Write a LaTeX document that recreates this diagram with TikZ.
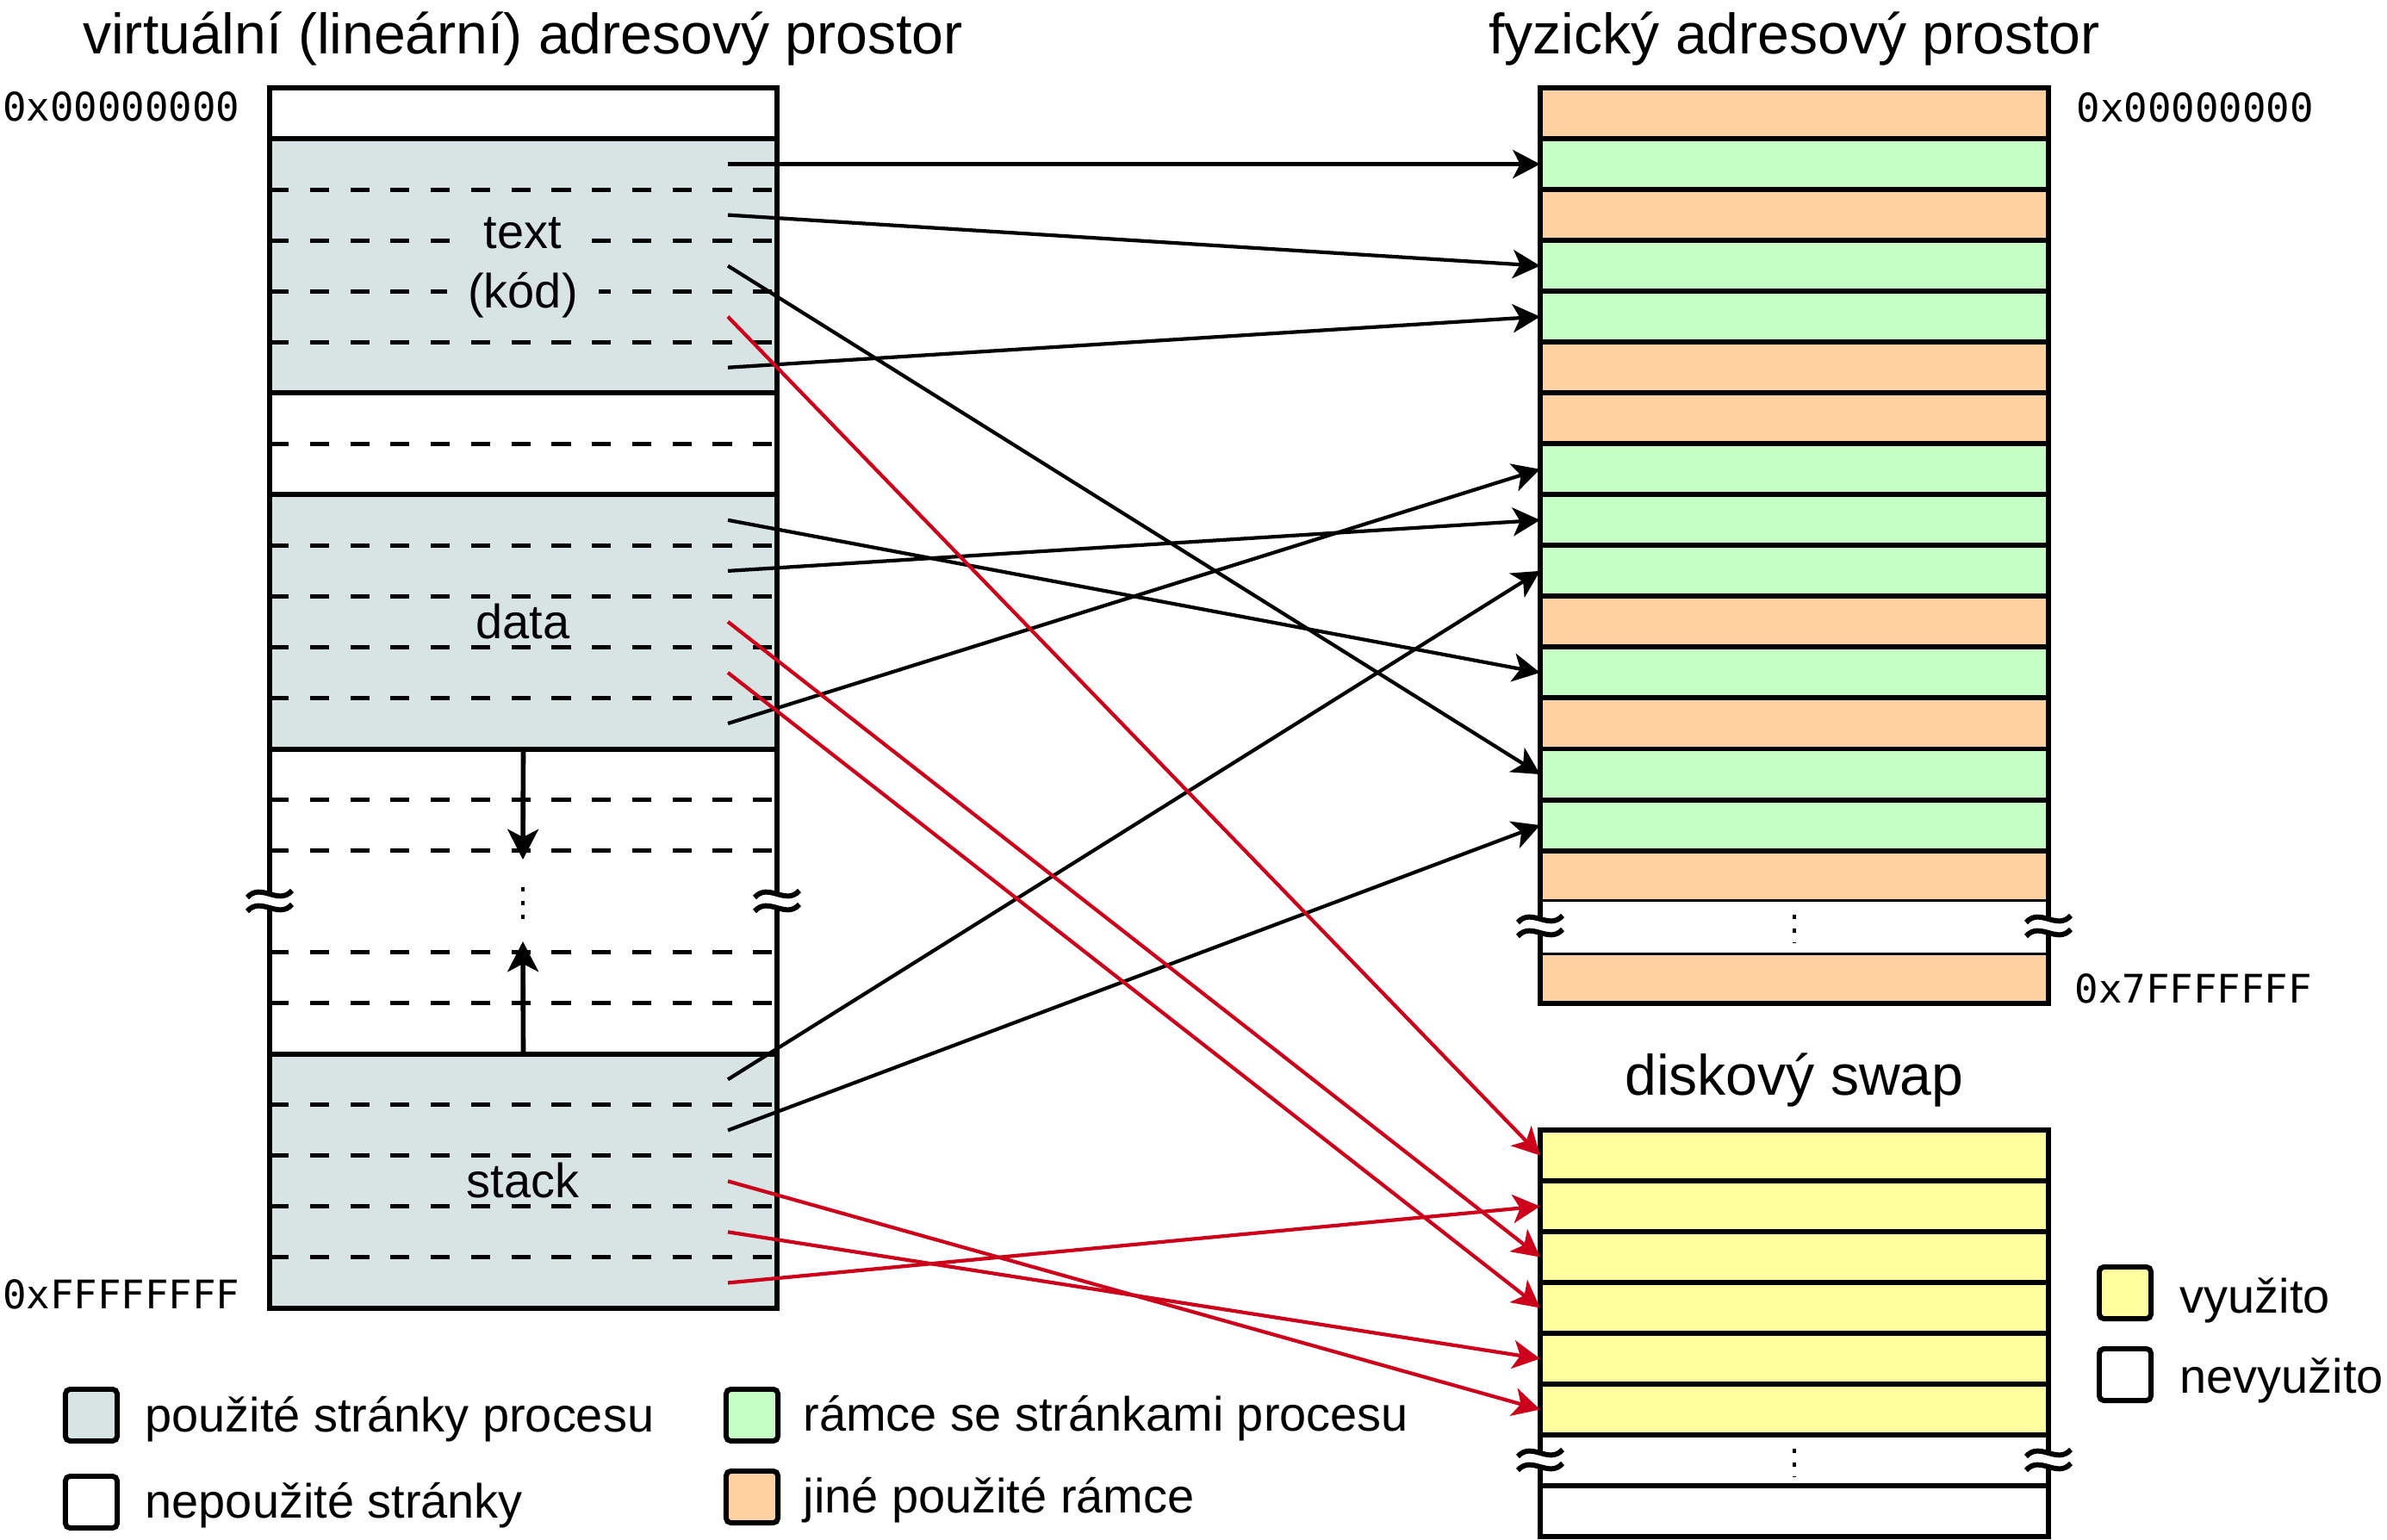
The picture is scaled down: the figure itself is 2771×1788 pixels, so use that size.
\documentclass[tikz,border=0pt]{standalone}
\usepackage{fontspec}
\setmainfont{Liberation Sans}
\newfontfamily\monofnt{DejaVu Sans Mono}
\usetikzlibrary{arrows.meta}
\definecolor{pggray}{RGB}{216,228,227}
\definecolor{pggreen}{RGB}{197,255,197}
\definecolor{pgorange}{RGB}{255,208,160}
\definecolor{pgyellow}{RGB}{255,255,160}
\definecolor{pgred}{RGB}{204,0,26}
\newcommand\titlefnt{\fontsize{18.8pt}{22pt}\selectfont}
\newcommand\lblfnt{\fontsize{15.9pt}{19pt}\selectfont}
\newcommand\addrfnt{\monofnt\fontsize{13pt}{15pt}\selectfont}
\begin{document}
\begin{tikzpicture}[x=0.01cm,y=-0.01cm,
  frame/.style={line width=1.7pt},
  sepline/.style={line width=1.4pt, dash pattern=on 6.3pt off 7pt},
  dotline/.style={line width=1.2pt, dash pattern=on 1.5pt off 3pt},
  vrow/.style={minimum width=5.89cm, minimum height=0.5904cm, inner sep=0pt, outer sep=0pt, draw=none},
  prow/.style={minimum width=5.9cm, minimum height=0.5904cm, inner sep=0pt, outer sep=0pt, draw, frame},
  map/.style={line width=1.2pt, -{Stealth[length=9pt,width=9.4pt,inset=2.4pt]}},
  mapred/.style={map, draw=pgred, fill=pgred},
  growth/.style={line width=1.6pt, -{Stealth[length=10pt,width=10.2pt,inset=2.6pt]}},
  lbl/.style={font=\lblfnt, fill=pggray, inner xsep=7pt, inner ysep=1pt},
  txt/.style={font=\lblfnt, inner sep=0pt},
  ttl/.style={font=\titlefnt, inner sep=0pt, anchor=base},
  addr/.style={font=\addrfnt, inner sep=0pt},
  leg/.style={draw, frame, minimum size=0.6cm, inner sep=0pt, rounded corners=1.5pt},
  wave/.style={frame}
]
\useasboundingbox (0,0) rectangle (2771,1788);
\newcommand\brkmark[2]{%
  \draw[wave] ({#1-26},{#2-4}) .. controls ({#1-10},{#2-22}) and ({#1+10},{#2+6}) .. ({#1+26},{#2-12});
  \draw[wave] ({#1-26},{#2+12}) .. controls ({#1-10},{#2-6}) and ({#1+10},{#2+22}) .. ({#1+26},{#2+4});
}
% ---------- titles
\node[ttl] (tv) at (607,63) {virtuální (lineární) adresový prostor};
\node[ttl] (tp) at (2083,63) {fyzický adresový prostor};
\node[ttl] (ts) at (2083,1271) {diskový swap};
% ---------- virtual address space
\foreach \k in {0,6,7,13,14,15,16,17,18}
  \node[vrow, fill=white] (V\k) at (607.5,{102+59.04*(\k+0.5)}) {};
\foreach \k in {1,2,3,4,5,8,9,10,11,12,19,20,21,22,23}
  \node[vrow, fill=pggray] (V\k) at (607.5,{102+59.04*(\k+0.5)}) {};
\foreach \k in {2,3,4,5,7,9,10,11,12,14,15,17,18,20,21,22,23}
  \draw[sepline] (313,{102+59.04*\k}) -- (902,{102+59.04*\k});
\foreach \k in {1,6,8,13,19}
  \draw[frame] (313,{102+59.04*\k}) -- (902,{102+59.04*\k});
\draw[frame] (313,1038) -- (313,102) -- (902,102) -- (902,1038);
\draw[frame] (313,1054) -- (313,1519) -- (902,1519) -- (902,1054);
\brkmark{313}{1046}
\brkmark{902}{1046}
\coordinate (dgrow) at (607,998);
\coordinate (sgrow) at (607,1093);
\draw[growth] (V12.south) -- (dgrow);
\draw[growth] (V19.north) -- (sgrow);
\draw[dotline] (607,1030) -- (607,1068);
\node[lbl, anchor=base] (Ltext) at (607,288) {text};
\node[lbl, anchor=base] (Lkod) at (607,358) {(kód)};
\node[lbl, anchor=base] (Ldata) at (607,741) {data};
\node[lbl, anchor=base] (Lstack) at (607,1390) {stack};
\node[addr, anchor=base east] (a0) at (279,141) {0x00000000};
\node[addr, anchor=base east] (a1) at (279,1519) {0xFFFFFFFF};
% ---------- physical address space
\foreach \k/\c in {0/pgorange,1/pggreen,2/pgorange,3/pggreen,4/pggreen,5/pgorange,
  6/pgorange,7/pggreen,8/pggreen,9/pggreen,10/pgorange,11/pggreen,12/pgorange,
  13/pggreen,14/pggreen,15/pgorange,17/pgorange}
  \node[prow, fill=\c] (P\k) at (2083,{102+59.04*(\k+0.5)}) {};
\node[vrow, minimum width=5.9cm, fill=white] (P16) at (2083,{102+59.04*16.5}) {};
\draw[frame] (1788,{102+59.04*16}) -- (1788,1067) (1788,1083) -- (1788,{102+59.04*17});
\draw[frame] (2378,{102+59.04*16}) -- (2378,1067) (2378,1083) -- (2378,{102+59.04*17});
\brkmark{1788}{1075}
\brkmark{2378}{1075}
\draw[dotline] (2083,1062) -- (2083,1094);
\node[addr, anchor=base west] (a2) at (2410,142) {0x00000000};
\node[addr, anchor=base west] (a3) at (2408,1164) {0x7FFFFFFF};
% ---------- swap
\foreach \k in {0,1,2,3,4,5}
  \node[prow, fill=pgyellow] (S\k) at (2083,{1312+59*(\k+0.5)}) {};
\node[prow, fill=white] (S7) at (2083,{1312+59*7.5}) {};
\node[vrow, minimum width=5.9cm, fill=white] (S6) at (2083,{1312+59*6.5}) {};
\draw[frame] (1788,1666) -- (1788,1687) (1788,1703) -- (1788,1725);
\draw[frame] (2378,1666) -- (2378,1687) (2378,1703) -- (2378,1725);
\draw[frame] (1788,1666) -- (2378,1666) (1788,1725) -- (2378,1725);
\brkmark{1788}{1695}
\brkmark{2378}{1695}
\draw[dotline] (2083,1682) -- (2083,1714);
% ---------- mapping arrows
\foreach \k in {1,2,3,4,5,8,9,10,11,12,19,20,21,22,23}
  \coordinate (v\k) at (845,{102+59.04*(\k+0.5)});
\foreach \a/\b in {v1/P1,v2/P3,v3/P13,v5/P4,v8/P11,v9/P8,v12/P7,v19/P9,v20/P14}
  \draw[map] (\a) -- (\b.west);
\foreach \a/\b in {v4/S0,v10/S2,v11/S3,v21/S5,v22/S4,v23/S1}
  \draw[mapred] (\a) -- (\b.west);
% ---------- legend
\node[leg, fill=pggray] (Lg1) at (106,1643) {};
\node[txt, anchor=base west] (Lt1) at (168,1662) {použité stránky procesu};
\node[leg, fill=white] (Lg2) at (106,1744) {};
\node[txt, anchor=base west] (Lt2) at (168,1762) {nepoužité stránky};
\node[leg, fill=pggreen] (Lg3) at (873,1643) {};
\node[txt, anchor=base west] (Lt3) at (932,1661) {rámce se stránkami procesu};
\node[leg, fill=pgorange] (Lg4) at (873,1738) {};
\node[txt, anchor=base west] (Lt4) at (932,1756) {jiné použité rámce};
\node[leg, fill=pgyellow] (Lg5) at (2467,1501) {};
\node[txt, anchor=base west] (Lt5) at (2530,1524) {využito};
\node[leg, fill=white] (Lg6) at (2467,1596) {};
\node[txt, anchor=base west] (Lt6) at (2530,1617) {nevyužito};
\end{tikzpicture}
\end{document}
